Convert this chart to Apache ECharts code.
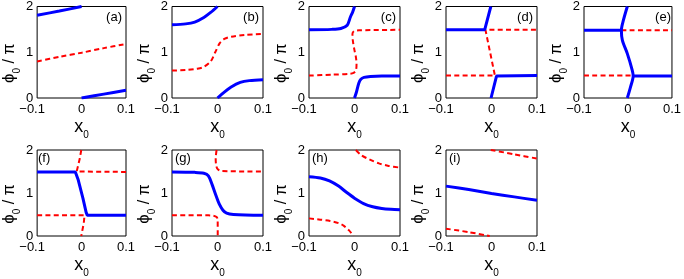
<!DOCTYPE html>
<html>
<head>
<meta charset="utf-8">
<script src="https://cdn.jsdelivr.net/npm/echarts@6/dist/echarts.min.js"></script>
<style>
  html, body { margin: 0; padding: 0; background: #fff; }
  #chart { width: 684px; height: 279px; }
</style>
</head>
<body>
<div id="chart"></div>
<script>
// axis ticks (same for every panel)
const xTicks = [-0.1, 0, 0.1]
const xTickLabels = ['−0.1', '0', '0.1']
const yTicks = [0, 1, 2]
const yTickLabels = ['0', '1', '2']
const panelLabels = ['(a)', '(b)', '(c)', '(d)', '(e)', '(f)', '(g)', '(h)', '(i)']

// solid blue curves, [x0, phi0/pi], one list per segment
const blueA = [
  [[-0.1, 1.81], [-0.05, 1.9], [0, 2]],
  [[0, 0], [0.05, 0.085], [0.1, 0.17]]
]
const blueB = [
  [[-0.1, 1.6], [-0.07, 1.62], [-0.05, 1.66], [-0.03, 1.76], [-0.015, 1.87], [0, 2]],
  [[0, 0], [0.015, 0.13], [0.03, 0.24], [0.05, 0.34], [0.07, 0.38], [0.1, 0.4]]
]
const blueC = [
  [[-0.1, 1.49], [-0.05, 1.5], [-0.03, 1.52], [-0.016, 1.59], [-0.009, 1.77], [-0.004, 1.88], [0, 2]],
  [[0, 0], [0.004, 0.12], [0.0096, 0.33], [0.014, 0.41], [0.021, 0.45], [0.035, 0.47], [0.06, 0.48], [0.1, 0.48]]
]
const blueD = [
  [[-0.1, 1.49], [-0.015, 1.49], [-0.0015, 2]],
  [[-0.001, 0], [0.011, 0.48], [0.1, 0.49]]
]
const blueE = [
  [[-0.0015, 0], [0.006, 0.25], [0.0118, 0.48], [0.0096, 0.61], [-0.0015, 0.97], [-0.0127, 1.26], [-0.015, 1.48], [-0.0104, 1.7], [-0.0015, 2]],
  [[-0.1, 1.48], [-0.015, 1.48]],
  [[0.0118, 0.48], [0.1, 0.48]]
]
const blueF = [
  [[-0.1, 1.49], [-0.014, 1.49], [-0.008, 1.32], [0.003, 0.88], [0.0103, 0.55], [0.013, 0.48], [0.1, 0.48]]
]
const blueG = [
  [[-0.1, 1.49], [-0.05, 1.48], [-0.03, 1.46], [-0.02, 1.4], [-0.012, 1.2], [-0.004, 0.96], [0.004, 0.74], [0.012, 0.6], [0.02, 0.53], [0.035, 0.5], [0.1, 0.48]]
]
const blueH = [
  [[-0.1, 1.38], [-0.075, 1.35], [-0.055, 1.28], [-0.035, 1.16], [-0.017, 1.01], [0, 0.88], [0.02, 0.755], [0.04, 0.68], [0.06, 0.64], [0.08, 0.62], [0.1, 0.61]]
]
const blueI = [
  [[-0.1, 1.16], [-0.05, 1.08], [0, 0.99], [0.05, 0.91], [0.1, 0.83]]
]

// dashed red curves
const redA = [
  [[-0.1, 0.8], [-0.05, 0.9], [0, 0.99], [0.05, 1.09], [0.1, 1.18]]
]
const redB = [
  [[-0.1, 0.6], [-0.07, 0.61], [-0.045, 0.64], [-0.03, 0.68], [-0.015, 0.8], [-0.005, 1.0], [0.005, 1.2], [0.015, 1.29], [0.03, 1.34], [0.06, 1.38], [0.1, 1.4]]
]
const redC = [
  [[-0.1, 0.49], [-0.05, 0.51], [-0.01, 0.53], [-0.002, 0.55], [0.003, 0.6], [0.0045, 0.75], [0.003, 0.9], [0, 1.04], [-0.0037, 1.26], [-0.0045, 1.4], [-0.001, 1.46], [0.01, 1.48], [0.1, 1.49]]
]
const redD = [
  [[-0.1, 0.49], [0.0075, 0.49], [-0.0133, 1.49], [0.1, 1.49]]
]
const redE = [
  [[-0.015, 1.48], [0.1, 1.48]],
  [[-0.1, 0.49], [0.0118, 0.49]]
]
const redF = [
  [[-0.0007, 2], [-0.004, 1.8], [-0.011, 1.5], [0.1, 1.49]],
  [[-0.1, 0.48], [0.0066, 0.48], [0.005, 0.3], [-0.0007, 0]]
]
const redG = [
  [[-0.002, 2], [-0.004, 1.8], [-0.003, 1.65], [0, 1.56], [0.008, 1.51], [0.1, 1.5]],
  [[-0.1, 0.48], [-0.02, 0.48], [-0.0093, 0.47], [-0.002, 0.44], [0.0004, 0.38], [0.0005, 0]]
]
const redH = [
  [[0.003, 2], [0.015, 1.88], [0.035, 1.77], [0.0535, 1.69], [0.075, 1.63], [0.1, 1.59]],
  [[-0.1, 0.41], [-0.075, 0.38], [-0.0535, 0.35], [-0.035, 0.3], [-0.024, 0.24], [-0.012, 0.13], [-0.002, 0]]
]
const redI = [
  [[-0.0015, 2], [0.05, 1.9], [0.1, 1.8]],
  [[-0.1, 0.17], [-0.05, 0.09], [-0.004, 0]]
]

const blues = [blueA, blueB, blueC, blueD, blueE, blueF, blueG, blueH, blueI]
const reds = [redA, redB, redC, redD, redE, redF, redG, redH, redI]

// layout
const colLefts = [35, 172, 309, 446, 584]
const rowTops = [6, 150]
const plotW = 91
const plotH = 92
const sharpPanels = [3, 5] // (d) and (f) have hard corners
const font = 'Liberation Sans'

const chart = echarts.init(document.getElementById('chart'))

const grids = [], xAxes = [], yAxes = [], series = [], graphics = []

panelLabels.forEach((label, i) => {
  const row = i < 5 ? 0 : 1
  const col = i < 5 ? i : i - 5
  const left = colLefts[col]
  const top = rowTops[row]

  grids.push({
    left, top, width: plotW, height: plotH,
    show: true, borderColor: '#000', borderWidth: 1, backgroundColor: 'transparent'
  })

  xAxes.push({
    type: 'value', gridIndex: i, min: -0.1, max: 0.1, interval: 0.1,
    axisLine: { show: false }, axisTick: { show: false }, splitLine: { show: false },
    axisLabel: {
      margin: 5, color: '#000', fontSize: 13, fontFamily: font,
      formatter: v => {
        const k = xTicks.findIndex(t => Math.abs(t - v) < 1e-6)
        const s = xTickLabels[k]
        return v < 0 ? '{neg|' + s + '}' : s
      },
      rich: { neg: { fontSize: 13, fontFamily: font, color: '#000', padding: [0, 10, 0, 0] } }
    },
    name: '{x|x}{s|0}', nameLocation: 'middle', nameGap: 18,
    nameTextStyle: {
      rich: {
        x: { fontSize: 18, fontFamily: font, color: '#000', lineHeight: 20, verticalAlign: 'bottom' },
        s: { fontSize: 10, fontFamily: font, color: '#000', lineHeight: 20, verticalAlign: 'bottom', padding: [0, 0, -4, 0] }
      }
    }
  })

  yAxes.push({
    type: 'value', gridIndex: i, min: 0, max: 2, interval: 1,
    axisLine: { show: false }, axisTick: { show: false }, splitLine: { show: false },
    axisLabel: {
      margin: 4, color: '#000', fontSize: 13, fontFamily: font,
      formatter: v => yTickLabels[yTicks.indexOf(Math.round(v))]
    },
    name: '{p|ϕ}{s|0}{q| / π}', nameLocation: 'middle', nameGap: 16, nameRotate: 90,
    nameTextStyle: {
      padding: [0, 22, 0, 0],
      rich: {
        p: { fontSize: 17, fontFamily: font, color: '#000', lineHeight: 18, verticalAlign: 'bottom' },
        s: { fontSize: 10, fontFamily: font, color: '#000', lineHeight: 18, verticalAlign: 'bottom', padding: [0, 0, -4, 0] },
        q: { fontSize: 16, fontFamily: font, color: '#000', lineHeight: 18, verticalAlign: 'bottom' }
      }
    }
  })

  const smooth = sharpPanels.includes(i) ? false : 0.3

  reds[i].forEach(seg => series.push({
    type: 'line', xAxisIndex: i, yAxisIndex: i, data: seg,
    symbol: 'none', smooth, silent: true, animation: false,
    lineStyle: { color: '#ff0000', width: 2, type: [5, 3.3] }
  }))
  blues[i].forEach(seg => series.push({
    type: 'line', xAxisIndex: i, yAxisIndex: i, data: seg,
    symbol: 'none', smooth, silent: true, animation: false,
    lineStyle: { color: '#0000ff', width: 3 }
  }))

  // panel tag: top-right in the first row, top-left in the second
  graphics.push({
    type: 'text',
    left: row === 0 ? undefined : left + 3,
    right: row === 0 ? 684 - (left + plotW) + 4 : undefined,
    top: row === 0 ? top + 5 : top + 2,
    style: { text: label, fontSize: 13, fontFamily: font, fill: '#000' }
  })
})

chart.setOption({
  backgroundColor: '#fff',
  animation: false,
  grid: grids,
  xAxis: xAxes,
  yAxis: yAxes,
  series,
  graphic: graphics
})

window.addEventListener('resize', () => chart.resize())
</script>
</body>
</html>
